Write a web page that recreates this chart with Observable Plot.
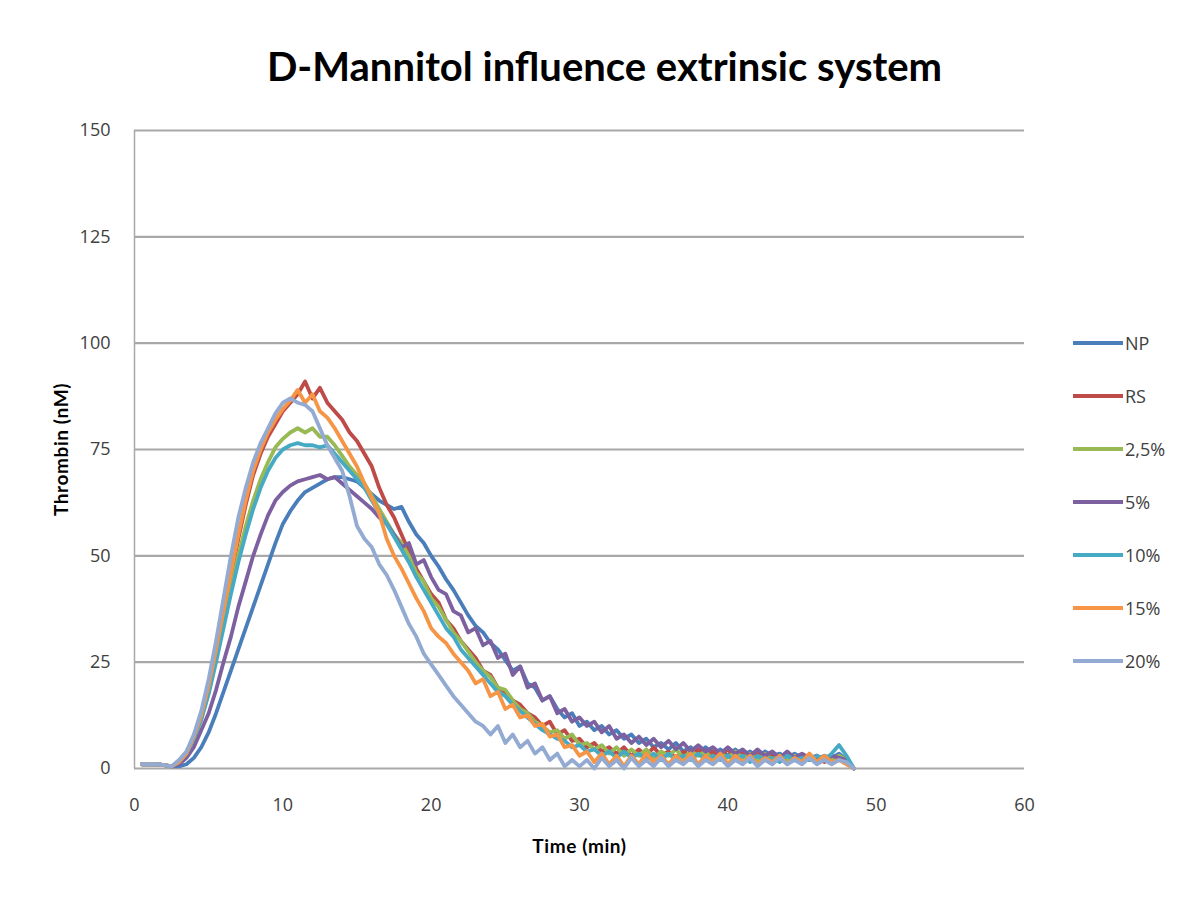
<!DOCTYPE html>
<html>
<head>
<meta charset="utf-8">
<script src="https://cdn.jsdelivr.net/npm/d3@7"></script>
<script src="https://cdn.jsdelivr.net/npm/@observablehq/plot@0.6"></script>
<style>
  html, body { margin: 0; padding: 0; background: #fff; }
  #wrap { position: relative; width: 1191px; height: 901px; overflow: hidden; }
  #title { position: absolute; left: 0; top: 42px; width: 1191px; text-align: center;
    font-family: Lato, "Open Sans", sans-serif; font-weight: bold; font-size: 40px; color: #000; padding-left: 18px; box-sizing: border-box; }
  #chart { position: absolute; left: 0; top: 110px; }
  #legend { position: absolute; left: 1073px; top: 330px; font-family: "Liberation Sans Narrow", "Open Sans", sans-serif; font-size: 18px; color: #404040; }
  .item { position: absolute; left: 0; height: 26px; display: flex; align-items: center; white-space: nowrap; }
  .swatch { width: 50px; height: 4px; margin-right: 2px; }
  svg text { font-family: "Liberation Sans Narrow", "Open Sans", sans-serif; }
  g[aria-label="y-axis label"] text, g[aria-label="x-axis label"] text { font-family: Lato, "Open Sans", sans-serif; font-weight: bold; font-size: 19px; letter-spacing: 0.6px; fill: #000; }
</style>
</head>
<body>
<div id="wrap">
  <div id="title">D-Mannitol influence extrinsic system</div>
  <div id="chart"></div>
  <div id="legend"></div>
</div>
<script>
const seriesNames = ["NP", "RS", "2,5%", "5%", "10%", "15%", "20%"];
const seriesColors = ["#4a7ebb", "#be4b48", "#98b954", "#7d60a0", "#46aac5", "#f69546", "#93aad2"];
const xTicks = [0, 10, 20, 30, 40, 50, 60];
const yTicks = [0, 25, 50, 75, 100, 125, 150];

// sample times (min)
const times = [
  0.5,1,1.5,2,2.5,3,3.5,4,4.5,5,
  5.5,6,6.5,7,7.5,8,8.5,9,9.5,10,
  10.5,11,11.5,12,12.5,13,13.5,14,14.5,15,
  15.5,16,16.5,17,17.5,18,18.5,19,19.5,20,
  20.5,21,21.5,22,22.5,23,23.5,24,24.5,25,
  25.5,26,26.5,27,27.5,28,28.5,29,29.5,30,
  30.5,31,31.5,32,32.5,33,33.5,34,34.5,35,
  35.5,36,36.5,37,37.5,38,38.5,39,39.5,40,
  40.5,41,41.5,42,42.5,43,43.5,44,44.5,45,
  45.5,46,46.5,47,47.5,48,48.5
];

const NP = [
  1,1,1,0.8,0.5,0.5,1,2.5,5,8.5,
  13,18,23,28,33,38,43,48,53,57.5,
  60.5,63,65,66,67,68,68.5,68.5,68,67.5,
  66,64.5,63,62,61,61.5,58,55,53,50,
  47.5,44.5,42,39,36,33.5,32,29.5,28,25.5,
  23,24,20,19,16,17,14,12,13,10,
  11,9,10,8,9,7,8,6,7,5,
  6,4.5,6,4,5,3.5,5,3.5,4.5,3,
  4.5,3,4,2.5,4,3,3.5,2.5,3.5,2.5,
  3,2,3,2.5,3.5,2,0
];
const RS = [
  1,1,1,0.8,0.5,1.5,3.5,7,12,19,
  27,36,45,54,62,69,74,78,81,84,
  86,88,91,87,89.5,86,84,82,79,77,
  74,71,66,62,59,55,51,47,44,41,
  39,35,33,30,28,26,23,22,19,18,
  16,15,13,12,10,11,8,9,6.5,7,
  5,6,4,5,3.5,5,3,4.5,3,5,
  3,4,2.5,4,3,4.5,2.5,4,3,4.5,
  2.5,4,2,3.5,2,3,2,3.5,2,3,
  2,3,1.5,2.5,2,2.5,0
];
const P25 = [
  1,1,1,0.8,0.5,1.5,3.5,7,11.5,18,
  26,34,42,50,57,63,68,72,75.5,77.5,
  79,80,79,80,78,78,76,73.5,71,69,
  67,64,61,58,55,53,50,46,44,40,
  38,35,32,30,27.5,25,23,21.5,19,18.5,
  16,14,13,11,10,8.5,9,7,8,5.5,
  6,4.5,5.5,3.5,5,3,4.5,3,4.5,2.5,
  4,3,4.5,2.5,4,3,4,2,3.5,2.5,
  4,2.5,3.5,2,3.5,2,3,2,3,2,
  3,1.5,2.5,2,3,2,0
];
const P5 = [
  1,1,1,0.8,0.5,1,2.5,5,9,13,
  18.5,25,31,38,44,50,55,59.5,63,65,
  66.5,67.5,68,68.5,69,68,68.5,67,65.5,64,
  62.5,61,59,57.5,55,52,53,48,49,45,
  42,41,37,36,32,33,29,30,26,27,
  22,24,19,20,16,17,13,14,11,12,
  10,11,8.5,10,7,8,6,7.5,5.5,7,
  5,6.5,4.5,6,4,5.5,4,5,3.5,5,
  3.5,4.5,3,4.5,3,4,2.5,4,2.5,3.5,
  2.5,3,2,3,2.5,2,0
];
const P10 = [
  1,1,1,0.8,0.5,1.5,3.5,7,11.5,17.5,
  25,33,41,48.5,55,61,66,70,73,75,
  76,76.5,76,76,75.5,76,74,72,70,68,
  66,63,60,57.5,54.5,51.5,48.5,45,42,39,
  36,33,31,28,26,24,22,20,18,17,
  15,13.5,12,10.5,9,8,7,6.5,5,5.5,
  4,4.5,3,4,2.5,4,2.5,3.5,2,3.5,
  2,3.5,2,3,2,3.5,2,3,2,3,
  2,3,1.5,3,2,2.5,1.5,3,2,2.5,
  2,3,2,3.5,5.5,3,0
];
const P15 = [
  1,1,1,0.8,0.5,1.5,3.5,7.5,12.5,19.5,
  28,37,46,55,63,70,75,79,82,84.5,
  86.5,89,86,88,84,82.5,80,77,74,71,
  67,63.5,60,54,50,47,43.5,40,37,33,
  31,29.5,27,25,23,20,21,17,18,14,
  15,12,12.5,10,10.5,7.5,8,5,5.5,3,
  4,1.5,3.5,1,3,0.5,3,1,3.5,1.5,
  3,1,3,1.5,3.5,1,3,1.5,3.5,1,
  3,1.5,3,1,2.5,1.5,3,1,2.5,1.5,
  3.5,1.5,3,1.5,2,1,0
];
const P20 = [
  1,1,1,0.8,0.5,2,4,8,13.5,21,
  30,40,50,59,66,72,76.5,80,83.5,86,
  87,86,85.5,84,80,76,73,70,64,57,
  54,52,48,45.5,42,38,34,31,27,24.5,
  22,19.5,17,15,13,11,10,8,10,6,
  8,5,6.5,3.5,5,2,3.5,0.5,2,0.5,
  2,0,2.5,0.5,2,0,2.5,0.5,2,0.5,
  2.5,0.5,2,1,2.5,0.5,2,1,2.5,0.5,
  2,1,2.5,0.5,2,1,2.5,1,2,1,
  2.5,1,2,1,2,1.5,0
];

const seriesValues = [NP, RS, P25, P5, P10, P15, P20];
const rows = [];
seriesValues.forEach((vals, i) => {
  vals.forEach((v, j) => rows.push({t: times[j], v, s: seriesNames[i]}));
});

const chart = Plot.plot({
  width: 1191,
  height: 791,
  marginLeft: 134,
  marginRight: 167,
  marginTop: 20,
  marginBottom: 133,
  style: {background: "#fff", color: "#404040", fontSize: "18px"},
  x: {domain: [0, 60]},
  y: {domain: [0, 150]},
  color: {domain: seriesNames, range: seriesColors},
  marks: [
    Plot.ruleY(yTicks, {stroke: "#a8a8a8", strokeWidth: 2.2}),
    Plot.ruleX([0], {stroke: "#a8a8a8", strokeWidth: 1.5}),
    Plot.axisY({ticks: yTicks, tickSize: 0, tickPadding: 24, label: "Thrombin (nM)", labelAnchor: "center", labelArrow: "none", labelOffset: 80}),
    Plot.axisX({ticks: xTicks, tickSize: 0, tickPadding: 30, label: "Time (min)", labelAnchor: "center", labelArrow: "none", labelOffset: 84}),
    Plot.line(rows, {x: "t", y: "v", z: "s", stroke: "s", strokeWidth: 3.8, strokeLinejoin: "round"})
  ]
});
document.getElementById("chart").appendChild(chart);

const legend = document.getElementById("legend");
seriesNames.forEach((name, i) => {
  const item = document.createElement("div");
  item.className = "item";
  item.style.top = (i * 53) + "px";
  const sw = document.createElement("div");
  sw.className = "swatch";
  sw.style.background = seriesColors[i];
  const lab = document.createElement("span");
  lab.textContent = name;
  item.appendChild(sw);
  item.appendChild(lab);
  legend.appendChild(item);
});
</script>
</body>
</html>
